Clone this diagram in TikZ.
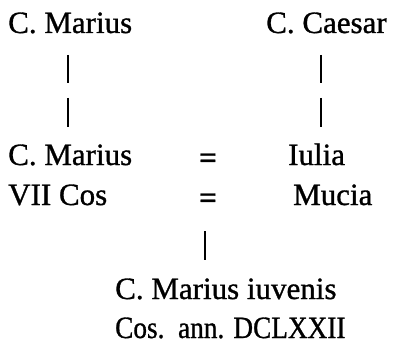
\documentclass[tikz,border=0pt]{standalone}
\usepackage{fontspec}
\setmainfont{Liberation Serif}[FakeBold=1.0]
\begin{document}
\begin{tikzpicture}[x=1pt,y=-1pt,
  person/.style={anchor=base west,inner sep=0pt,font=\fontsize{31}{36}\selectfont},
  eqsign/.style={anchor=base,inner sep=0pt,font=\fontsize{31}{36}\selectfont\bfseries},
  bar/.style={line width=2.2pt}]
\useasboundingbox (0,0) rectangle (395,347);
% first generation
\node[person] (mar1) at (8,33) {C. Marius};
\node[person] (cae) at (266,33) {C. Caesar};
% second generation and marriages
\node[person] (mar2) at (8,165) {C. Marius};
\node[eqsign] (eq1) at (208,168) {=};
\node[person] (iul) at (288,165) {Iulia};
\node[person] (cos7) at (8,205) {VII Cos};
\node[eqsign] (eq2) at (208,208) {=};
\node[person] (muc) at (293,205) {Mucia};
% son
\node[person] (iuv) at (115,299) {C. Marius iuvenis};
\node[person,xscale=0.88] (ann) at (115,338) {Cos.\ \ ann. DCLXXII};
% descent lines, broken in two
\coordinate (l1) at (68,55);  \coordinate (l2) at (68,83);
\coordinate (l3) at (68,98);  \coordinate (l4) at (68,127);
\coordinate (r1) at (321,55); \coordinate (r2) at (321,83);
\coordinate (r3) at (321,98); \coordinate (r4) at (321,127);
\coordinate (s1) at (205,231); \coordinate (s2) at (205,260);
\draw[bar] (l1) -- (l2) (l3) -- (l4);
\draw[bar] (r1) -- (r2) (r3) -- (r4);
\draw[bar] (s1) -- (s2);
\end{tikzpicture}
\end{document}
